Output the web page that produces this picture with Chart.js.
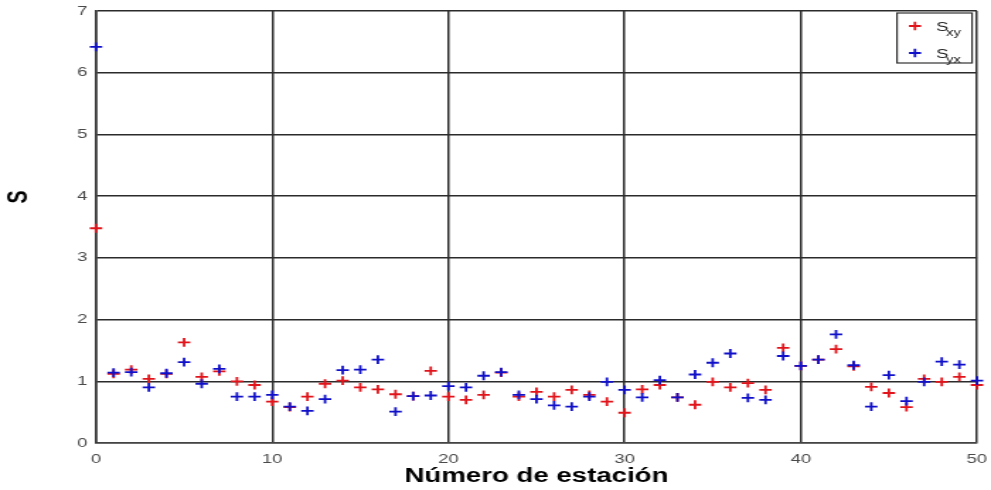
<!DOCTYPE html>
<html>
<head>
<meta charset="utf-8">
<script src="https://cdn.jsdelivr.net/npm/chart.js@4/dist/chart.umd.min.js"></script>
<style>
  html, body { margin: 0; padding: 0; background: #fff; overflow: hidden; }
  #c { display: block; transform: scale(1.41571, 1); transform-origin: 0 0; }
</style>
</head>
<body>
<canvas id="c" width="700" height="490"></canvas>
<script>
// Station numbers (x categories)
const stations = [0,1,2,3,4,5,6,7,8,9,10,11,12,13,14,15,16,17,18,19,20,21,22,23,24,25,26,27,28,29,30,31,32,33,34,35,36,37,38,39,40,41,42,43,44,45,46,47,48,49,50];
// S_xy (red)
const sxy = [3.48,1.12,1.19,1.04,1.12,1.63,1.07,1.16,1.00,0.94,0.67,0.58,0.75,0.96,1.01,0.90,0.87,0.79,0.76,1.17,0.75,0.70,0.78,1.14,0.75,0.83,0.75,0.86,0.78,0.67,0.49,0.87,0.94,0.74,0.62,0.99,0.90,0.97,0.86,1.54,1.25,1.35,1.52,1.24,0.91,0.81,0.58,1.04,0.99,1.07,0.94];
// S_yx (blue)
const syx = [6.42,1.14,1.15,0.90,1.13,1.31,0.96,1.20,0.75,0.75,0.78,0.59,0.52,0.71,1.18,1.19,1.35,0.51,0.76,0.77,0.92,0.90,1.09,1.15,0.78,0.71,0.61,0.59,0.75,0.99,0.86,0.74,1.02,0.74,1.11,1.30,1.45,0.73,0.70,1.41,1.25,1.35,1.76,1.26,0.59,1.10,0.68,0.99,1.32,1.27,1.01];
const xTicks = [0,10,20,30,40,50];
const yTicks = [0,1,2,3,4,5,6,7];
const xTitle = 'Número de estación';
const yTitle = 'S';
const seriesNames = [['S','xy'],['S','yx']];

const RED = '#e0141a';
const BLUE = '#1010c8';
const GRID = '#2b2b2b';
const FONT = '"Liberation Sans", Arial, sans-serif';

const toPts = (vals) => stations.map((s, i) => ({x: s, y: vals[i]}));

const extras = {
  id: 'extras',
  afterDraw(chart) {
    const ctx = chart.ctx;
    ctx.save();
    // y-axis title
    ctx.translate(14, 197);
    ctx.rotate(-Math.PI / 2);
    ctx.font = 'bold 19.5px ' + FONT;
    ctx.fillStyle = '#000';
    ctx.textAlign = 'center';
    ctx.textBaseline = 'middle';
    ctx.fillText(yTitle, 0, 0);
    ctx.restore();

    // legend
    ctx.save();
    const bx = 633.6, by = 13, bw = 53, bh = 50;
    ctx.fillStyle = '#fff';
    ctx.fillRect(bx, by, bw, bh);
    ctx.strokeStyle = '#333';
    ctx.lineWidth = 1.2;
    ctx.strokeRect(bx, by, bw, bh);
    const colors = [RED, BLUE];
    const rows = [26, 53];
    rows.forEach((ry, i) => {
      const cx = 646.3;
      ctx.strokeStyle = colors[i];
      ctx.lineWidth = 1.8;
      ctx.beginPath();
      ctx.moveTo(cx - 4.3, ry); ctx.lineTo(cx + 4.3, ry);
      ctx.moveTo(cx, ry - 4.3); ctx.lineTo(cx, ry + 4.3);
      ctx.stroke();
      ctx.fillStyle = '#222';
      ctx.textAlign = 'left';
      ctx.textBaseline = 'alphabetic';
      ctx.font = '13px ' + FONT;
      ctx.fillText(seriesNames[i][0], 661.3, ry + 4.5);
      ctx.font = '10.5px ' + FONT;
      ctx.fillText(seriesNames[i][1], 668.3, ry + 9.5);
    });
    ctx.restore();
  }
};

new Chart(document.getElementById('c'), {
  type: 'scatter',
  data: {
    datasets: [
      { label: 'Sxy', data: toPts(sxy), order: 2, clip: false, pointStyle: 'cross', pointRadius: 4.4, pointHoverRadius: 4.4,
        borderColor: RED, backgroundColor: RED, pointBorderWidth: 1.8, borderWidth: 1.8, showLine: false },
      { label: 'Syx', data: toPts(syx), order: 1, clip: false, pointStyle: 'cross', pointRadius: 4.4, pointHoverRadius: 4.4,
        borderColor: BLUE, backgroundColor: BLUE, pointBorderWidth: 1.8, borderWidth: 1.8, showLine: false }
    ]
  },
  options: {
    responsive: false,
    animation: false,
    devicePixelRatio: 1,
    layout: { autoPadding: false, padding: { top: 11, right: 9.9, left: 0, bottom: 0 } },
    plugins: { legend: { display: false }, tooltip: { enabled: false } },
    scales: {
      x: {
        type: 'linear', min: 0, max: 50,
        afterBuildTicks: (s) => { s.ticks = xTicks.map(v => ({value: v})); },
        afterFit: (s) => { s.height = 47; s.paddingLeft = 0; s.paddingRight = 0; },
        grid: { color: GRID, lineWidth: 1.5, drawTicks: false },
        border: { display: true, color: '#444', width: 1.5 },
        ticks: { color: '#4a4a4a', padding: 9, font: { family: FONT, size: 13 }, maxRotation: 0 },
        title: { display: true, text: xTitle, color: '#000', padding: { top: 0, bottom: 1.5 },
                 font: { family: FONT, size: 19.5, weight: 'bold' } }
      },
      y: {
        type: 'linear', min: 0, max: 7,
        afterBuildTicks: (s) => { s.ticks = yTicks.map(v => ({value: v})); },
        afterFit: (s) => { s.width = 67.8; s.paddingTop = 0; s.paddingBottom = 0; },
        grid: { color: GRID, lineWidth: 1.5, drawTicks: false },
        border: { display: true, color: '#333', width: 1.5 },
        ticks: { color: '#4a4a4a', padding: 6, font: { family: FONT, size: 13 } }
      }
    }
  },
  plugins: [extras]
});
</script>
</body>
</html>
